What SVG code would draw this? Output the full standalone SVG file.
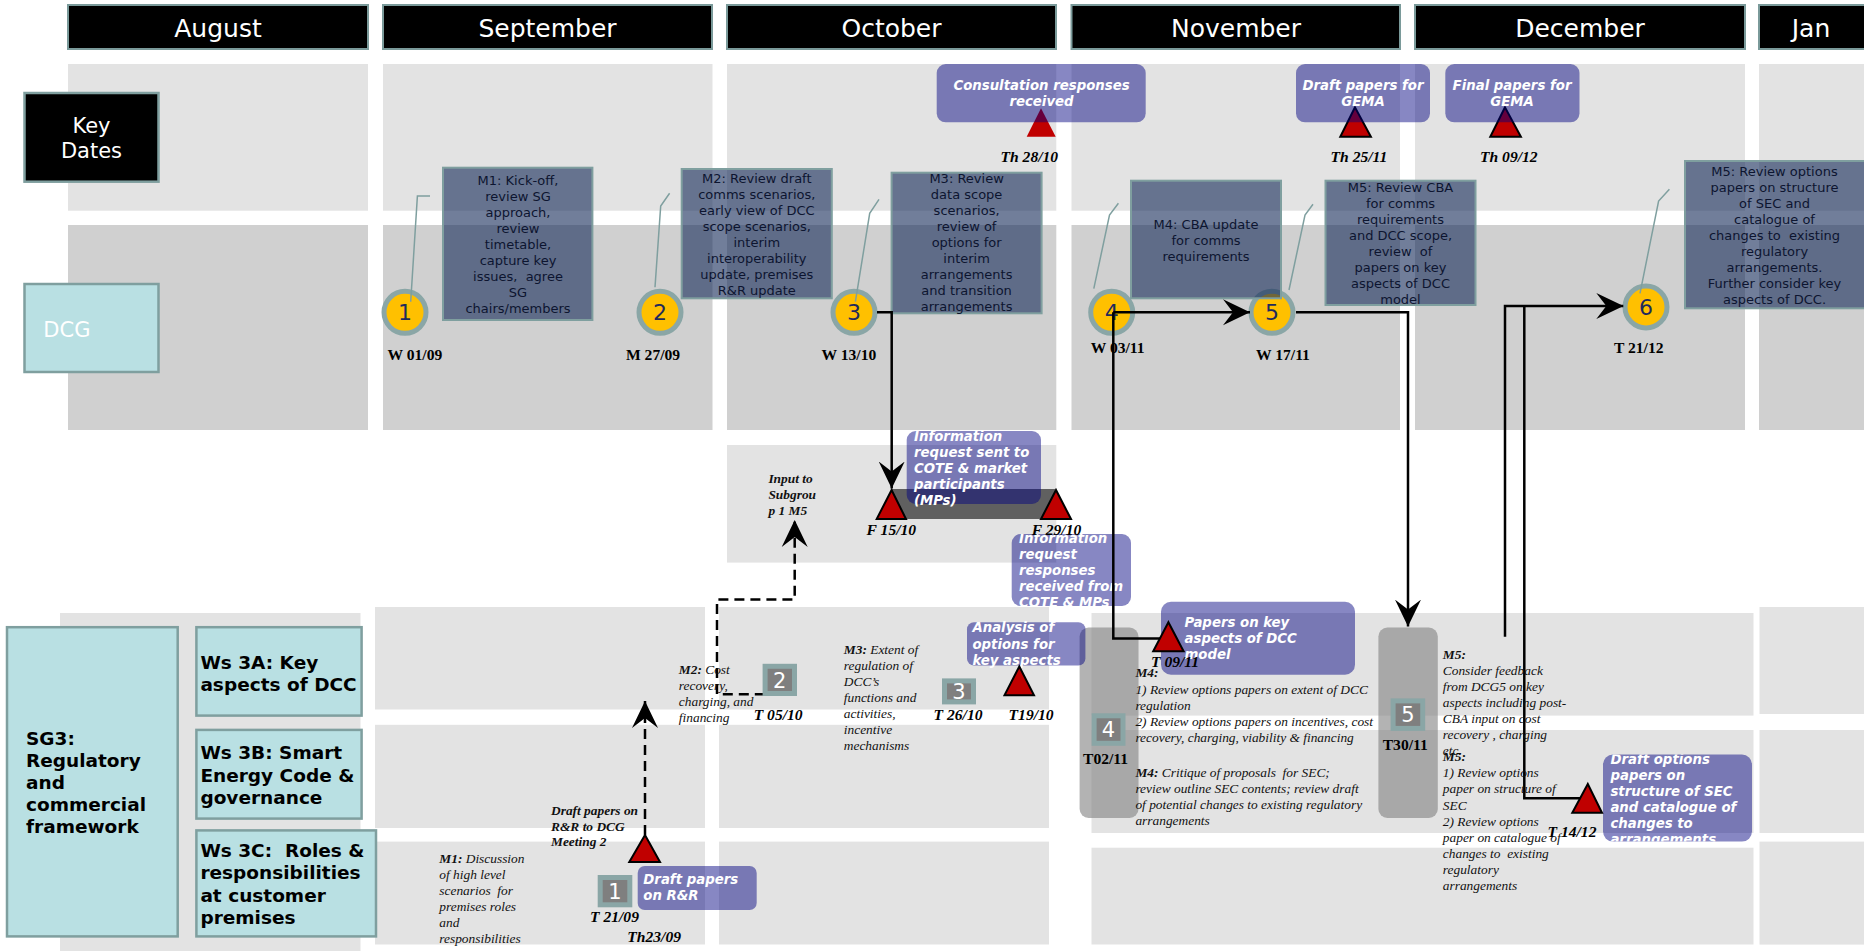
<svg xmlns="http://www.w3.org/2000/svg" width="1864" height="951" viewBox="0 0 1864 951">
<style>
.hdr{fill:#000;stroke:#7a9a9a;stroke-width:2}
.hdrt{font-family:"DejaVu Sans",sans-serif;font-size:25px;fill:#fff;text-anchor:middle}
.kb{fill:#e3e3e3}
.db{fill:#d0d0d0}
.lab{fill:#b9e0e3;stroke:#7f9f9f;stroke-width:2.5}
.sgt{font-family:"DejaVu Sans",sans-serif;font-weight:bold;font-size:18.5px;fill:#000}
.mbox{fill:#1a2f5c;fill-opacity:.62;stroke:#7f9f9f;stroke-width:2}
.mt{font-family:"DejaVu Sans",sans-serif;font-size:13px;fill:#0d1530;text-anchor:middle}
.pbox{fill:#000080;fill-opacity:.47}
.pt{font-family:"DejaVu Sans",sans-serif;font-size:13.3px;font-weight:bold;font-style:italic;fill:#fff}
.ptc{font-family:"DejaVu Sans",sans-serif;font-size:13.3px;font-weight:bold;font-style:italic;fill:#fff;text-anchor:middle}
.circ{fill:#ffc000;stroke:#8aa6a6;stroke-width:5}
.cn{font-family:"DejaVu Sans",sans-serif;font-size:22px;fill:#1f2a5c;text-anchor:middle}
.call{fill:none;stroke:#7f9f9f;stroke-width:1.5}
.tri{fill:#c00000;stroke:#000;stroke-width:2}
.dt{font-family:"Liberation Serif",serif;font-weight:bold;font-size:15.6px;fill:#000}
.dti{font-family:"Liberation Serif",serif;font-weight:bold;font-style:italic;font-size:15.6px;fill:#000}
.it{font-family:"Liberation Serif",serif;font-style:italic;font-size:13.4px;fill:#111}
.bi{font-family:"Liberation Serif",serif;font-style:italic;font-weight:bold;font-size:13.4px;fill:#111}
.sq{fill:#7f7f7f;stroke:#8aa6a6;stroke-width:5}
.sqn{font-family:"DejaVu Sans",sans-serif;font-size:21px;fill:#fff;text-anchor:middle}
.bar{fill:#808080;fill-opacity:.6}
.con{fill:none;stroke:#000;stroke-width:2.5}
.dash{fill:none;stroke:#000;stroke-width:2.5;stroke-dasharray:10 6}
</style>
<defs>
<marker id="arr" markerUnits="userSpaceOnUse" viewBox="0 0 27 28" refX="27" refY="14" markerWidth="27" markerHeight="28" orient="auto">
<path d="M0,1 L27,14 L0,27 L10,14 Z" fill="#000" stroke="none"/>
</marker>
<clipPath id="clipResp"><rect x="1011.7" y="534" width="119.3" height="72" rx="9"/></clipPath>
<clipPath id="clipOpt"><rect x="1603" y="754.6" width="149" height="87" rx="10"/></clipPath>
</defs>
<rect x="0" y="0" width="1864" height="951" fill="#fff"/>

<g id="bands">
<rect class="kb" x="68" y="64" width="300" height="146.7"/>
<rect class="kb" x="383" y="64" width="329.5" height="146.7"/>
<rect class="kb" x="727" y="64" width="329.3" height="146.7"/>
<rect class="kb" x="1071.5" y="64" width="328.5" height="146.7"/>
<rect class="kb" x="1415" y="64" width="330" height="146.7"/>
<rect class="kb" x="1759" y="64" width="105" height="146.7"/>
<rect class="db" x="68" y="225" width="300" height="205"/>
<rect class="db" x="383" y="225" width="329.5" height="205"/>
<rect class="db" x="727" y="225" width="329.3" height="205"/>
<rect class="db" x="1071.5" y="225" width="328.5" height="205"/>
<rect class="db" x="1415" y="225" width="330" height="205"/>
<rect class="db" x="1759" y="225" width="105" height="205"/>
<rect class="kb" x="727" y="445" width="329.3" height="117.6"/>
<rect class="kb" x="60" y="613" width="300.5" height="338"/>
<rect class="kb" x="375" y="607" width="330" height="102.5"/>
<rect class="kb" x="375" y="724.8" width="330" height="103.2"/>
<rect class="kb" x="375" y="841.6" width="330" height="102.9"/>
<rect class="kb" x="719" y="607" width="330" height="102.5"/>
<rect class="kb" x="719" y="724.8" width="330" height="103.2"/>
<rect class="kb" x="719" y="841.6" width="330" height="102.9"/>
<rect class="kb" x="1091.5" y="613" width="662" height="102.6"/>
<rect class="kb" x="1091.5" y="730" width="662" height="103"/>
<rect class="kb" x="1091.5" y="847.7" width="662" height="96.8"/>
<rect class="kb" x="1759.5" y="607" width="104.5" height="107"/>
<rect class="kb" x="1759.5" y="730" width="104.5" height="103"/>
<rect class="kb" x="1759.5" y="841.6" width="104.5" height="103"/>
</g>

<g id="headers">
<rect class="hdr" x="68" y="5" width="300" height="44"/><text class="hdrt" x="218" y="37">August</text>
<rect class="hdr" x="383" y="5" width="329" height="44"/><text class="hdrt" x="547.5" y="37">September</text>
<rect class="hdr" x="727" y="5" width="329" height="44"/><text class="hdrt" x="891.5" y="37">October</text>
<rect class="hdr" x="1071.5" y="5" width="328.5" height="44"/><text class="hdrt" x="1236" y="37">November</text>
<rect class="hdr" x="1415" y="5" width="330" height="44"/><text class="hdrt" x="1580" y="37">December</text>
<rect class="hdr" x="1759" y="5" width="110" height="44"/><text class="hdrt" x="1811" y="37">Jan</text>
</g>

<g id="label-keydates">
<rect x="24.5" y="93" width="134" height="88.7" fill="#000" stroke="#7f9f9f" stroke-width="2.5"/>
<text x="91.5" y="133" font-family="DejaVu Sans, sans-serif" font-size="21" fill="#fff" text-anchor="middle">Key</text>
<text x="91.5" y="158" font-family="DejaVu Sans, sans-serif" font-size="21" fill="#fff" text-anchor="middle">Dates</text>
</g>
<g id="label-dcg">
<rect class="lab" x="24.5" y="284" width="134" height="88"/>
<text x="43.3" y="337" font-family="DejaVu Sans, sans-serif" font-size="21" fill="#fff">DCG</text>
</g>
<g id="label-sg3">
<rect class="lab" x="7" y="627.2" width="170.7" height="309.2"/>
<text class="sgt" x="26" y="745">SG3:</text>
<text class="sgt" x="26" y="767">Regulatory</text>
<text class="sgt" x="26" y="789">and</text>
<text class="sgt" x="26" y="811">commercial</text>
<text class="sgt" x="26" y="833">framework</text>
</g>
<g id="label-ws3a">
<rect class="lab" x="196.4" y="627.2" width="165.2" height="88.4"/>
<text class="sgt" x="200.4" y="669">Ws 3A: Key</text>
<text class="sgt" x="200.4" y="690.5">aspects of DCC</text>
</g>
<g id="label-ws3b">
<rect class="lab" x="196.4" y="729.9" width="165.2" height="88.7"/>
<text class="sgt" x="200.4" y="759.3">Ws 3B: Smart</text>
<text class="sgt" x="200.4" y="781.5">Energy Code &amp;</text>
<text class="sgt" x="200.4" y="803.5">governance</text>
</g>
<g id="label-ws3c">
<rect class="lab" x="196.4" y="830.4" width="179.6" height="106"/>
<text class="sgt" x="200.4" y="856.8" xml:space="preserve">Ws 3C:  Roles &amp;</text>
<text class="sgt" x="200.4" y="879.3">responsibilities</text>
<text class="sgt" x="200.4" y="901.8">at customer</text>
<text class="sgt" x="200.4" y="924.3">premises</text>
</g>

<g id="keydate-consultation">
<polygon points="1041,108.3 1026.7,136.7 1055.7,136.7" fill="#c00000"/>
<rect class="pbox" x="936.7" y="64" width="209" height="58.3" rx="9"/>
<text class="ptc" x="1041.5" y="90">Consultation responses</text>
<text class="ptc" x="1041.5" y="105.7">received</text>
<text class="dti" x="1000.5" y="161.7">Th 28/10</text>
</g>
<g id="keydate-draft-gema">
<polygon class="tri" points="1355,107.3 1340.3,136.7 1370.9,136.7"/>
<rect class="pbox" x="1296" y="64" width="134" height="58.3" rx="9"/>
<text class="ptc" x="1363" y="90">Draft papers for</text>
<text class="ptc" x="1363" y="105.7">GEMA</text>
<text class="dti" x="1330.6" y="161.7">Th 25/11</text>
</g>
<g id="keydate-final-gema">
<polygon class="tri" points="1505,107.3 1490.3,136.7 1520.9,136.7"/>
<rect class="pbox" x="1445.3" y="64" width="134.2" height="58.3" rx="9"/>
<text class="ptc" x="1512" y="90">Final papers for</text>
<text class="ptc" x="1512" y="105.7">GEMA</text>
<text class="dti" x="1480" y="161.7">Th 09/12</text>
</g>

<g id="dcg-milestones">
<g id="m1"><circle class="circ" cx="405" cy="312.3" r="21"/><text class="cn" x="405" y="320.3">1</text><text class="dt" x="387.5" y="360">W 01/09</text></g>
<g id="m2"><circle class="circ" cx="660" cy="312.3" r="21"/><text class="cn" x="660" y="320.3">2</text><text class="dt" x="626" y="360">M 27/09</text></g>
<g id="m3"><circle class="circ" cx="854" cy="312.3" r="21"/><text class="cn" x="854" y="320.3">3</text><text class="dt" x="821.5" y="360">W 13/10</text></g>
<g id="m4"><circle class="circ" cx="1111.7" cy="312.3" r="21"/><text class="cn" x="1111.7" y="320.3">4</text><text class="dt" x="1090.7" y="352.7">W 03/11</text></g>
<g id="m5"><circle class="circ" cx="1272" cy="312.3" r="21"/><text class="cn" x="1272" y="320.3">5</text><text class="dt" x="1256" y="360">W 17/11</text></g>
<g id="m6"><circle class="circ" cx="1646" cy="307" r="21"/><text class="cn" x="1646" y="315">6</text><text class="dt" x="1614" y="352.7">T 21/12</text></g>
</g>

<g id="box-m1">
<rect class="mbox" x="443" y="167.7" width="149.4" height="152.3"/>
<text class="mt" xml:space="preserve"><tspan x="518" y="185">M1: Kick-off,</tspan><tspan x="518" y="201">review SG</tspan><tspan x="518" y="217">approach,</tspan><tspan x="518" y="233">review</tspan><tspan x="518" y="249">timetable,</tspan><tspan x="518" y="265">capture key</tspan><tspan x="518" y="281">issues,  agree</tspan><tspan x="518" y="297">SG</tspan><tspan x="518" y="313">chairs/members</tspan></text>
</g>
<g id="box-m2">
<rect class="mbox" x="681.7" y="169" width="150.1" height="129.3"/>
<text class="mt"><tspan x="756.8" y="183.3">M2: Review draft</tspan><tspan x="756.8" y="199.3">comms scenarios,</tspan><tspan x="756.8" y="215.3">early view of DCC</tspan><tspan x="756.8" y="231.3">scope scenarios,</tspan><tspan x="756.8" y="247.3">interim</tspan><tspan x="756.8" y="263.3">interoperability</tspan><tspan x="756.8" y="279.3">update, premises</tspan><tspan x="756.8" y="295.3">R&amp;R update</tspan></text>
</g>
<g id="box-m3">
<rect class="mbox" x="891.6" y="172.7" width="150" height="140.6"/>
<text class="mt"><tspan x="966.6" y="183.3">M3: Review</tspan><tspan x="966.6" y="199.3">data scope</tspan><tspan x="966.6" y="215.3">scenarios,</tspan><tspan x="966.6" y="231.3">review of</tspan><tspan x="966.6" y="247.3">options for</tspan><tspan x="966.6" y="263.3">interim</tspan><tspan x="966.6" y="279.3">arrangements</tspan><tspan x="966.6" y="295.3">and transition</tspan><tspan x="966.6" y="311.3">arrangements</tspan></text>
</g>
<g id="box-m4">
<rect class="mbox" x="1131" y="180.7" width="150" height="117.6"/>
<text class="mt"><tspan x="1206" y="228.7">M4: CBA update</tspan><tspan x="1206" y="244.7">for comms</tspan><tspan x="1206" y="260.7">requirements</tspan></text>
</g>
<g id="box-m5a">
<rect class="mbox" x="1325.5" y="180.7" width="150" height="124.3"/>
<text class="mt" xml:space="preserve"><tspan x="1400.5" y="191.7">M5: Review CBA</tspan><tspan x="1400.5" y="207.7">for comms</tspan><tspan x="1400.5" y="223.7">requirements</tspan><tspan x="1400.5" y="239.7">and DCC scope,</tspan><tspan x="1400.5" y="255.7">review  of</tspan><tspan x="1400.5" y="271.7">papers on key</tspan><tspan x="1400.5" y="287.7">aspects of DCC</tspan><tspan x="1400.5" y="303.7">model</tspan></text>
</g>
<g id="box-m5b">
<rect class="mbox" x="1685" y="161" width="180" height="147.3"/>
<text class="mt" xml:space="preserve"><tspan x="1774.5" y="175.7">M5: Review options</tspan><tspan x="1774.5" y="191.7">papers on structure</tspan><tspan x="1774.5" y="207.7">of SEC and</tspan><tspan x="1774.5" y="223.7">catalogue of</tspan><tspan x="1774.5" y="239.7">changes to  existing</tspan><tspan x="1774.5" y="255.7">regulatory</tspan><tspan x="1774.5" y="271.7">arrangements.</tspan><tspan x="1774.5" y="287.7">Further consider key</tspan><tspan x="1774.5" y="303.7">aspects of DCC.</tspan></text>
</g>

<g id="callouts">
<path class="call" d="M430,196 L417.4,196 L410.7,301.7"/>
<path class="call" d="M669.6,193.3 L660.7,206 L655,287.3"/>
<path class="call" d="M879,199.3 L869.7,213.3 L855.4,301.7"/>
<path class="call" d="M1118.4,203.3 L1109.5,215 L1093.8,288.7"/>
<path class="call" d="M1313,204.3 L1305,215 L1289,290"/>
<path class="call" d="M1669.4,189.3 L1658.6,201 L1640,293.3"/>
</g>

<g id="info-request">
<rect x="891.7" y="489" width="163.3" height="30" fill="#606060"/>
<rect class="pbox" x="906.7" y="431" width="134.3" height="73" rx="9"/>
<text class="pt"><tspan x="914" y="440.5">Information</tspan><tspan x="914" y="456.5">request sent to</tspan><tspan x="914" y="472.5">COTE &amp; market</tspan><tspan x="914" y="488.5">participants</tspan><tspan x="914" y="504.5">(MPs)</tspan></text>
</g>
<g id="info-responses">
<rect class="pbox" x="1011.7" y="534" width="119.3" height="72" rx="9"/>
<text class="pt" clip-path="url(#clipResp)"><tspan x="1019" y="542.7">Information</tspan><tspan x="1019" y="558.7">request</tspan><tspan x="1019" y="574.7">responses</tspan><tspan x="1019" y="590.7">received from</tspan><tspan x="1019" y="606.7">COTE &amp; MPs</tspan></text>
</g>
<g id="input-subgroup">
<text class="bi"><tspan x="768.4" y="482.6">Input to</tspan><tspan x="768.4" y="498.6">Subgrou</tspan><tspan x="768.4" y="514.6">p 1 M5</tspan></text>
</g>

<g id="bar4"><rect class="bar" x="1079.6" y="627.6" width="58.9" height="190.3" rx="9"/></g>
<g id="bar5"><rect class="bar" x="1378.4" y="627.6" width="59.4" height="190.3" rx="9"/></g>

<g id="analysis">
<rect class="pbox" x="967" y="622.2" width="118.4" height="43.3" rx="7"/>
<text class="pt"><tspan x="972.4" y="632.3">Analysis of</tspan><tspan x="972.4" y="648.5">options for</tspan><tspan x="972.4" y="664.5">key aspects</tspan></text>
</g>
<g id="papers-key">
<rect class="pbox" x="1161" y="601.8" width="194" height="72.9" rx="10"/>
<text class="pt"><tspan x="1184.5" y="627.2">Papers on key</tspan><tspan x="1184.5" y="643">aspects of DCC</tspan><tspan x="1184.5" y="658.8">model</tspan></text>
</g>
<g id="draft-rr">
<rect class="pbox" x="637.7" y="866" width="119" height="44" rx="7"/>
<text class="pt"><tspan x="643.3" y="884">Draft papers</tspan><tspan x="643.3" y="900">on R&amp;R</tspan></text>
</g>
<g id="draft-options">
<rect class="pbox" x="1603" y="754.6" width="149" height="87" rx="10"/>
<text class="pt" clip-path="url(#clipOpt)"><tspan x="1610.4" y="763.7">Draft options</tspan><tspan x="1610.4" y="779.7">papers on</tspan><tspan x="1610.4" y="795.7">structure of SEC</tspan><tspan x="1610.4" y="811.7">and catalogue of</tspan><tspan x="1610.4" y="827.7">changes to</tspan><tspan x="1610.4" y="843.7">arrangements</tspan></text>
</g>

<g id="connectors">
<path class="con" d="M877,312.3 H891.7 V488.5" marker-end="url(#arr)"/>
<path class="con" d="M1113.3,312.3 H1250" marker-end="url(#arr)"/>
<path class="con" d="M1113.3,312.3 V638.4 H1168"/>
<path class="con" d="M1296,312.3 H1408 V626.6" marker-end="url(#arr)"/>
<path class="con" d="M1505,636.7 V306 H1623.3" marker-end="url(#arr)"/>
<path class="con" d="M1587.8,798.3 H1524.3 V306"/>
<path class="dash" d="M764.8,694.3 H717 V599.5 H794.7 V520" marker-end="url(#arr)"/>
<path class="dash" d="M645,835 V701" marker-end="url(#arr)"/>
</g>

<g id="triangles">
<polygon class="tri" points="891.6,490 876.7,519 906,519"/>
<polygon class="tri" points="1056,490 1041,519 1071,519"/>
<polygon class="tri" points="1019.3,666.5 1004.5,695.3 1034,695.3"/>
<polygon class="tri" points="1168.4,622.2 1153.2,651.3 1183.6,651.3"/>
<polygon class="tri" points="1587.8,784 1572.3,812.8 1602,812.8"/>
<polygon class="tri" points="645,835 629.3,862 660,862"/>
</g>

<g id="squares">
<g id="sq1"><rect class="sq" x="600.2" y="877.5" width="29.6" height="27.3"/><text class="sqn" x="615" y="899">1</text></g>
<g id="sq2"><rect class="sq" x="765.1" y="666.3" width="29.4" height="27.2"/><text class="sqn" x="779.8" y="687.5">2</text></g>
<g id="sq3"><rect class="sq" x="944.5" y="680.9" width="29" height="21"/><text class="sqn" x="959" y="699">3</text></g>
<g id="sq4"><rect class="sq" x="1094.1" y="715.8" width="28.9" height="27.5"/><text class="sqn" x="1108.5" y="737">4</text></g>
<g id="sq5"><rect class="sq" x="1393.1" y="700.9" width="29.6" height="27.5"/><text class="sqn" x="1407.9" y="722">5</text></g>
</g>

<g id="date-labels">
<text class="dti" x="866.6" y="535">F 15/10</text>
<text class="dti" x="1031.7" y="535">F 29/10</text>
<text class="dti" x="753.7" y="720.4">T 05/10</text>
<text class="dti" x="933.6" y="720.4">T 26/10</text>
<text class="dti" x="1008.6" y="720.4">T19/10</text>
<text class="dti" x="1151" y="667.2">T 09/11</text>
<text class="dti" x="1547.5" y="837.2">T 14/12</text>
<text class="dti" x="590" y="921.7">T 21/09</text>
<text class="dti" x="627.3" y="941.7">Th23/09</text>
<text class="dt" x="1083" y="763.7">T02/11</text>
<text class="dt" x="1382.7" y="750.2">T30/11</text>
</g>

<g id="notes">
<text class="bi"><tspan x="551" y="815">Draft papers on</tspan><tspan x="551" y="830.5">R&amp;R to DCG</tspan><tspan x="551" y="846">Meeting 2</tspan></text>
<text class="it" xml:space="preserve"><tspan x="439.3" y="863.3"><tspan font-weight="bold">M1:</tspan> Discussion</tspan><tspan x="439.3" y="879.3">of high level</tspan><tspan x="439.3" y="895.3">scenarios  for</tspan><tspan x="439.3" y="911.3">premises roles</tspan><tspan x="439.3" y="927.3">and</tspan><tspan x="439.3" y="943.3">responsibilities</tspan></text>
<text class="it"><tspan x="678.8" y="674"><tspan font-weight="bold">M2:</tspan> Cost</tspan><tspan x="678.8" y="690">recovery,</tspan><tspan x="678.8" y="706">charging, and</tspan><tspan x="678.8" y="722">financing</tspan></text>
<text class="it"><tspan x="843.8" y="653.7"><tspan font-weight="bold">M3:</tspan> Extent of</tspan><tspan x="843.8" y="669.7">regulation of</tspan><tspan x="843.8" y="685.7">DCC’s</tspan><tspan x="843.8" y="701.7">functions and</tspan><tspan x="843.8" y="717.7">activities,</tspan><tspan x="843.8" y="733.7">incentive</tspan><tspan x="843.8" y="749.7">mechanisms</tspan></text>
<text class="it" xml:space="preserve"><tspan x="1135.4" y="677.4" font-weight="bold">M4:</tspan><tspan x="1135.4" y="693.5">1) Review options papers on extent of DCC</tspan><tspan x="1135.4" y="709.5">regulation</tspan><tspan x="1135.4" y="725.7">2) Review options papers on incentives, cost</tspan><tspan x="1135.4" y="741.7">recovery, charging, viability &amp; financing</tspan><tspan x="1135.4" y="776.6"><tspan font-weight="bold">M4:</tspan> Critique of proposals  for SEC;</tspan><tspan x="1135.4" y="792.6">review outline SEC contents; review draft</tspan><tspan x="1135.4" y="808.7">of potential changes to existing regulatory</tspan><tspan x="1135.4" y="824.7">arrangements</tspan></text>
<text class="it" xml:space="preserve"><tspan x="1442.8" y="658.7" font-weight="bold">M5:</tspan><tspan x="1442.8" y="674.7">Consider feedback</tspan><tspan x="1442.8" y="690.8">from DCG5 on key</tspan><tspan x="1442.8" y="706.8">aspects including post-</tspan><tspan x="1442.8" y="723">CBA input on cost</tspan><tspan x="1442.8" y="739">recovery , charging</tspan><tspan x="1442.8" y="755.2">etc.</tspan></text>
<text class="it" xml:space="preserve"><tspan x="1442.8" y="761" font-weight="bold">M5:</tspan><tspan x="1442.8" y="777.2">1) Review options</tspan><tspan x="1442.8" y="793.4">paper on structure of</tspan><tspan x="1442.8" y="809.5">SEC</tspan><tspan x="1442.8" y="825.6">2) Review options</tspan><tspan x="1442.8" y="841.7">paper on catalogue of</tspan><tspan x="1442.8" y="857.9">changes to  existing</tspan><tspan x="1442.8" y="874">regulatory</tspan><tspan x="1442.8" y="890">arrangements</tspan></text>
</g>
</svg>
